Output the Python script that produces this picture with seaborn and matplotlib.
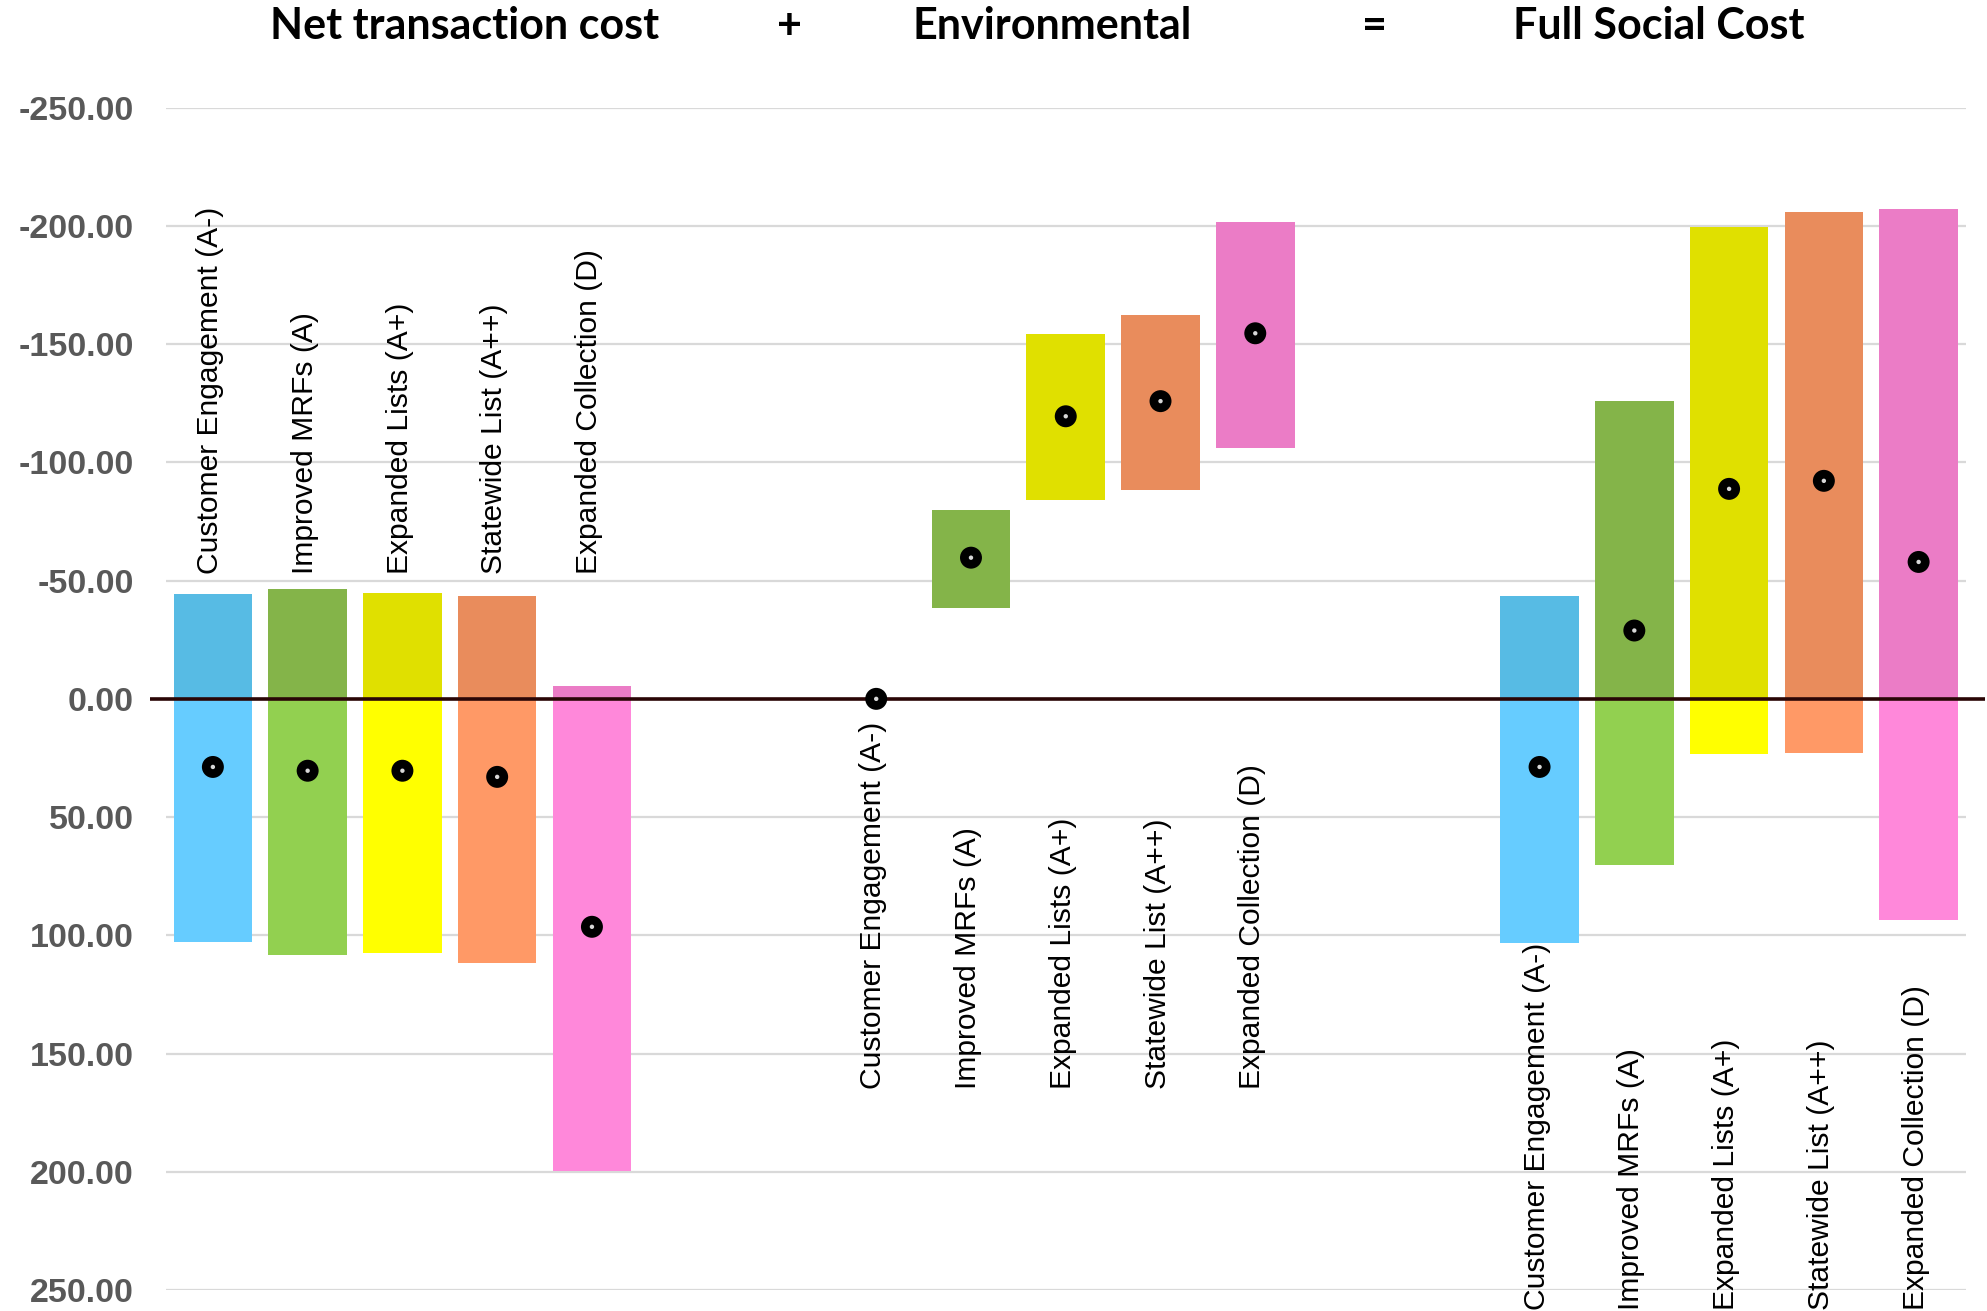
import matplotlib
matplotlib.use("Agg")
import matplotlib.pyplot as plt
import matplotlib.transforms as mtransforms
import numpy as np
import pandas as pd
import seaborn as sns

# Options compared in each panel
options = ["Customer Engagement (A-)", "Improved MRFs (A)", "Expanded Lists (A+)",
           "Statewide List (A++)", "Expanded Collection (D)"]
panels = ["Net transaction cost", "Environmental", "Full Social Cost"]
operators = ["+", "="]

# Ranges (low / high) and central estimates for each panel
net_low = [-44.2, -46.3, -44.9, -43.5, -5.5]
net_high = [102.7, 108.3, 107.6, 111.7, 199.7]
net_mid = [28.8, 30.4, 30.4, 33.0, 96.4]

env_low = [0.0, -80.0, -154.2, -162.5, -201.7]
env_high = [0.0, -38.5, -84.2, -88.4, -106.1]
env_mid = [0.0, -59.7, -119.5, -125.9, -154.6]

full_low = [-43.5, -126.0, -199.4, -205.8, -207.0]
full_high = [103.4, 70.2, 23.5, 22.8, 93.6]
full_mid = [28.8, -28.9, -88.8, -92.2, -57.9]

y_ticks = [-250, -200, -150, -100, -50, 0, 50, 100, 150, 200, 250]

# Fill colours: darker shade for the part below zero, lighter for the part above
neg_colors = ["#57BBE4", "#84B449", "#E0E000", "#E98C5C", "#EB7CC6"]
pos_colors = ["#66CCFF", "#92D050", "#FFFF00", "#FF9966", "#FF88DA"]

sns.set_theme(style="white")
plt.rcParams["font.family"] = ["Liberation Sans", "DejaVu Sans"]

W, H = 1987, 1311
fig = plt.figure(figsize=(W / 100, H / 100), dpi=100)
fig.patch.set_facecolor("white")
ax = fig.add_axes([165.5 / W, 21 / H, (1966 - 165.5) / W, (1290 - 107.7) / H])

group_start = [0, 7, 14]
lows = [net_low, env_low, full_low]
highs = [net_high, env_high, full_high]
mids = [net_mid, env_mid, full_mid]
label_y = [-53.0, 164.8, 258.3]

bar_w = 0.83
rows = []
for g in range(3):
    for i in range(len(options)):
        x = group_start[g] + i
        lo, hi, mid = lows[g][i], highs[g][i], mids[g][i]
        if lo < 0:
            top = min(hi, 0)
            ax.bar(x, top - lo, bottom=lo, width=bar_w, color=neg_colors[i],
                   linewidth=0, zorder=2)
        if hi > 0:
            base = max(lo, 0)
            ax.bar(x, hi - base, bottom=base, width=bar_w, color=pos_colors[i],
                   linewidth=0, zorder=2)
        rows.append({"x": x, "value": mid, "panel": panels[g], "option": options[i]})
        ax.text(x - 0.03, label_y[g], options[i], rotation=90, rotation_mode="anchor",
                ha="left", va="center", fontsize=21.6, color="black",
                clip_on=False, zorder=5)

points = pd.DataFrame(rows)

# Zero reference line
ax.plot([-0.66, 18.7], [0, 0], color="#2a0606", lw=2.6, zorder=3, clip_on=False,
        solid_capstyle="butt")

# Central estimates: black dots with a small light centre
sns.scatterplot(data=points, x="x", y="value", ax=ax, s=250, color="black",
                edgecolor="none", zorder=4, legend=False)
sns.scatterplot(data=points, x="x", y="value", ax=ax, s=10, color="#d8d8d8",
                edgecolor="none", zorder=5, legend=False)

ax.set_xlim(-0.5, 18.5)
ax.set_ylim(250, -250)
ax.set_yticks(y_ticks)
ax.set_yticklabels([f"{v:.2f}" for v in y_ticks])
ax.set_xticks([])
ax.set_xlabel("")
ax.set_ylabel("")
ax.yaxis.grid(True, color="#D9D9D9", lw=1.6, zorder=0)
ax.set_axisbelow(True)
ax.tick_params(axis="y", length=0, pad=23, labelsize=24.5, labelcolor="#595959")
for lab in ax.get_yticklabels():
    lab.set_fontweight("bold")
for s in ax.spines.values():
    s.set_visible(False)

# Panel headings across the top
trans = mtransforms.blended_transform_factory(ax.transData, fig.transFigure)
head_x = [2.66, 6.08, 8.86, 12.26, 15.26]
head_txt = [panels[0], operators[0], panels[1], operators[1], panels[2]]
for hx, ht in zip(head_x, head_txt):
    ax.text(hx, 0.980, ht, transform=trans, ha="center", va="center",
            fontsize=31, fontweight="bold", color="black",
            family=["Lato", "DejaVu Sans"])

fig.savefig("out.png", dpi=100, facecolor="white")
